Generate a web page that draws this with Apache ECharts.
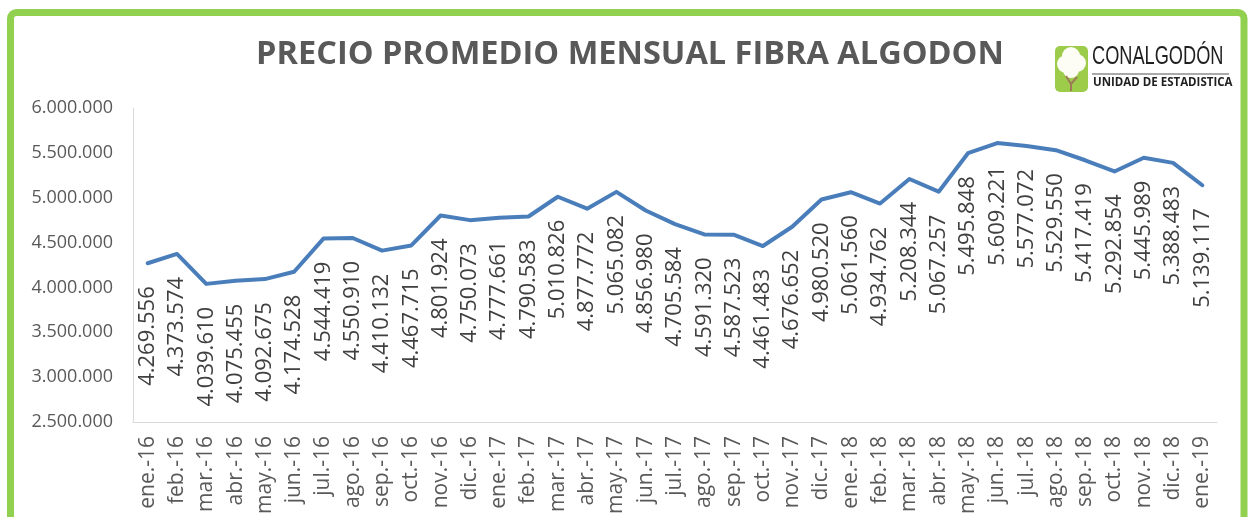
<!DOCTYPE html>
<html>
<head>
<meta charset="utf-8">
<script src="https://cdn.jsdelivr.net/npm/echarts@6/dist/echarts.min.js"></script>
<style>
  html, body { margin: 0; padding: 0; background: #fff; }
  #chart { width: 1250px; height: 517px; }
</style>
</head>
<body>
<div id="chart"></div>
<script>
const months = [
  "ene.-16", "feb.-16", "mar.-16", "abr.-16", "may.-16", "jun.-16", "jul.-16", "ago.-16",
  "sep.-16", "oct.-16", "nov.-16", "dic.-16", "ene.-17", "feb.-17", "mar.-17", "abr.-17",
  "may.-17", "jun.-17", "jul.-17", "ago.-17", "sep.-17", "oct.-17", "nov.-17", "dic.-17",
  "ene.-18", "feb.-18", "mar.-18", "abr.-18", "may.-18", "jun.-18", "jul.-18", "ago.-18",
  "sep.-18", "oct.-18", "nov.-18", "dic.-18", "ene.-19"
];
const precios = [
  4269556, 4373574, 4039610, 4075455, 4092675, 4174528, 4544419, 4550910,
  4410132, 4467715, 4801924, 4750073, 4777661, 4790583, 5010826, 4877772,
  5065082, 4856980, 4705584, 4591320, 4587523, 4461483, 4676652, 4980520,
  5061560, 4934762, 5208344, 5067257, 5495848, 5609221, 5577072, 5529550,
  5417419, 5292854, 5445989, 5388483, 5139117
];
const yMin = 2500000;
const yMax = 6000000;
const yStep = 500000;

// separador de miles con punto
function miles(v) {
  return Math.round(v).toString().replace(/\B(?=(\d{3})+(?!\d))/g, ".");
}

const chart = echarts.init(document.getElementById("chart"));
const font = "'Open Sans', sans-serif";

chart.setOption({
  backgroundColor: "#ffffff",
  animation: false,
  title: {
    text: "PRECIO PROMEDIO MENSUAL FIBRA ALGODON",
    left: 625,
    top: 33,
    textAlign: "center",
    textStyle: { fontFamily: font, fontSize: 32.5, fontWeight: "bold", color: "#595959" }
  },
  grid: { left: 133, right: 33, top: 108, bottom: 95, containLabel: false },
  xAxis: {
    type: "category",
    data: months,
    boundaryGap: true,
    axisLine: { lineStyle: { color: "#d9d9d9", width: 1 } },
    axisTick: { show: false },
    axisLabel: {
      rotate: 90,
      margin: 14,
      fontFamily: font,
      fontSize: 21,
      color: "#595959",
      interval: 0
    }
  },
  yAxis: {
    type: "value",
    min: yMin,
    max: yMax,
    interval: yStep,
    axisLine: { show: true, lineStyle: { color: "#d9d9d9", width: 1 } },
    axisTick: { show: false },
    splitLine: { show: false },
    axisLabel: {
      margin: 20,
      fontFamily: font,
      fontSize: 18,
      color: "#595959",
      formatter: miles
    }
  },
  series: [{
    type: "line",
    data: precios,
    symbol: "circle",
    symbolSize: 2,
    showSymbol: true,
    showAllSymbol: true,
    itemStyle: { color: "#4a7ebb", borderWidth: 0 },
    lineStyle: { color: "#4a7ebb", width: 4, cap: "round", join: "round" },
    label: {
      show: true,
      position: "bottom",
      distance: 22,
      rotate: 90,
      align: "right",
      verticalAlign: "middle",
      fontFamily: font,
      fontSize: 22,
      color: "#404040",
      formatter: p => miles(p.value)
    }
  }],
  graphic: [
    // marco verde
    {
      type: "rect",
      shape: { x: 10.5, y: 12.5, width: 1233.5, height: 600, r: 6 },
      style: { fill: null, stroke: "#92d050", lineWidth: 7 },
      silent: true
    },
    // logo
    {
      type: "group",
      left: 1055,
      top: 44,
      children: [
        {
          type: "rect",
          shape: { x: 0, y: 2, width: 33, height: 46, r: 5 },
          style: { fill: "#9ccc4a" }
        },
        { type: "circle", shape: { cx: 11, cy: 20, r: 9 }, style: { fill: "#fdfdf5" } },
        { type: "circle", shape: { cx: 22, cy: 19, r: 9 }, style: { fill: "#fdfdf5" } },
        { type: "circle", shape: { cx: 16, cy: 12, r: 9 }, style: { fill: "#fdfdf5" } },
        { type: "circle", shape: { cx: 16, cy: 26, r: 8 }, style: { fill: "#fdfdf5" } },
        {
          type: "polyline",
          shape: { points: [[11, 32], [16, 40], [16, 47]] },
          style: { stroke: "#a0785a", lineWidth: 2, fill: null }
        },
        {
          type: "polyline",
          shape: { points: [[22, 33], [16, 40]] },
          style: { stroke: "#a0785a", lineWidth: 2, fill: null }
        },
        {
          type: "text",
          x: 37,
          y: 0,
          scaleX: 0.7,
          style: {
            text: "CONALGODÓN",
            fontFamily: "'Liberation Sans', sans-serif",
            fontSize: 26,
            fill: "#1f1f1f"
          }
        },
        {
          type: "line",
          shape: { x1: 37, y1: 30, x2: 174, y2: 30 },
          style: { stroke: "#555555", lineWidth: 1.2 }
        },
        {
          type: "text",
          x: 38,
          y: 33,
          style: {
            text: "UNIDAD DE ESTADISTICA",
            fontFamily: font,
            fontSize: 11.5,
            fontWeight: "bold",
            fill: "#1f1f1f"
          }
        }
      ]
    }
  ]
});
</script>
</body>
</html>
